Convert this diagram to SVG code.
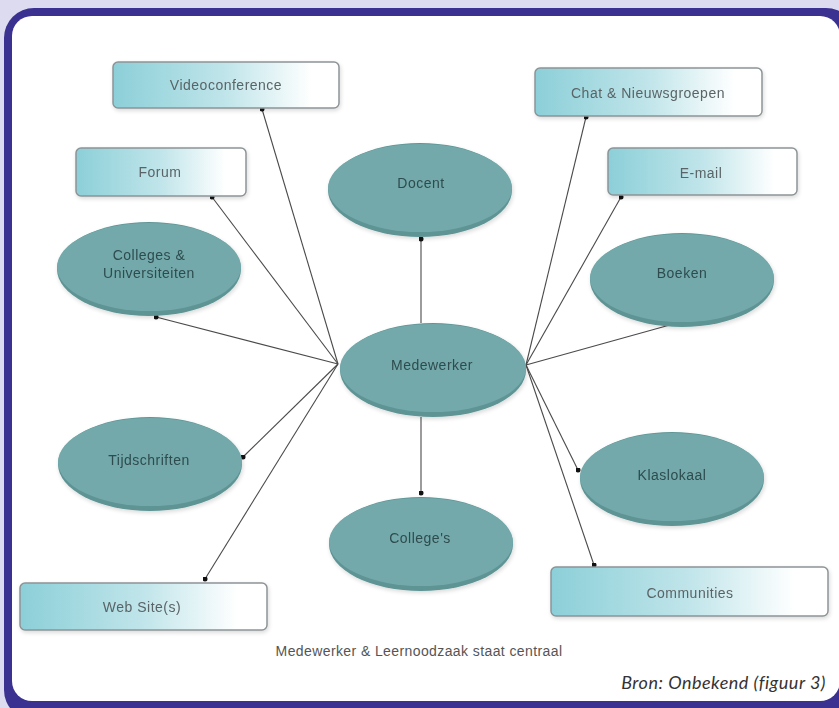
<svg xmlns="http://www.w3.org/2000/svg" width="839" height="708" viewBox="0 0 839 708">
<defs>
<linearGradient id="boxg" x1="0" y1="0" x2="1" y2="0">
<stop offset="0" stop-color="#8ccfd8"/>
<stop offset="0.5" stop-color="#c0e5ea"/>
<stop offset="0.88" stop-color="#ffffff"/>
</linearGradient>
<marker id="dot" viewBox="0 0 6 6" refX="3" refY="3" markerWidth="5" markerHeight="5" markerUnits="userSpaceOnUse">
<circle cx="3" cy="3" r="3" fill="#111"/>
</marker>
<filter id="sh" x="-10%" y="-10%" width="120%" height="130%">
<feGaussianBlur in="SourceAlpha" stdDeviation="2"/>
<feOffset dx="1" dy="2"/>
<feComponentTransfer><feFuncA type="linear" slope="0.15"/></feComponentTransfer>
<feMerge><feMergeNode/><feMergeNode in="SourceGraphic"/></feMerge>
</filter>
</defs>
<style>
.box{fill:url(#boxg);stroke:#8d9496;stroke-width:1.5}
.rim{fill:#5e9495}
.top{fill:#73a9aa}
.bl{font-family:"Liberation Sans",Arial,sans-serif;font-size:14px;letter-spacing:0.5px;fill:#5a6466;text-anchor:middle}
.el{font-family:"Liberation Sans",Arial,sans-serif;font-size:14px;letter-spacing:0.5px;fill:#2e4c4e;text-anchor:middle}
.cn{stroke:#4a4a4a;stroke-width:1.1;fill:none;marker-end:url(#dot)}
</style>
<rect x="0" y="0" width="839" height="708" fill="#dcdbf0"/>
<rect x="4" y="8" width="852" height="712" rx="30" fill="#3a3190"/>
<rect x="12" y="16" width="828" height="685" rx="20" fill="#ffffff"/>

<g id="connectors">
<line class="cn" x1="338" y1="364" x2="262" y2="109"/>
<line class="cn" x1="338" y1="364" x2="212" y2="197"/>
<line class="cn" x1="338" y1="364" x2="156" y2="317"/>
<line class="cn" x1="338" y1="364" x2="243" y2="457"/>
<line class="cn" x1="338" y1="364" x2="205" y2="579"/>
<line class="cn" x1="526" y1="365" x2="586" y2="117"/>
<line class="cn" x1="526" y1="365" x2="621" y2="197"/>
<line class="cn" x1="526" y1="365" x2="677" y2="323"/>
<line class="cn" x1="526" y1="365" x2="578" y2="470"/>
<line class="cn" x1="526" y1="365" x2="594" y2="565"/>
<line class="cn" x1="421" y1="323" x2="421" y2="239"/>
<line class="cn" x1="421" y1="417" x2="421" y2="493"/>
</g>

<g id="videoconference" filter="url(#sh)">
<rect class="box" x="113" y="62" width="226" height="46" rx="5"/>
<text class="bl" x="226" y="90">Videoconference</text>
</g>
<g id="forum" filter="url(#sh)">
<rect class="box" x="76" y="148" width="170" height="48" rx="5"/>
<text class="bl" x="160" y="177">Forum</text>
</g>
<g id="chat" filter="url(#sh)">
<rect class="box" x="535" y="68" width="227" height="48" rx="5"/>
<text class="bl" x="648" y="98">Chat &amp; Nieuwsgroepen</text>
</g>
<g id="email" filter="url(#sh)">
<rect class="box" x="608" y="148" width="189" height="47" rx="5"/>
<text class="bl" x="701" y="178">E-mail</text>
</g>
<g id="website" filter="url(#sh)">
<rect class="box" x="20" y="583" width="247" height="47" rx="5"/>
<text class="bl" x="142" y="612">Web Site(s)</text>
</g>
<g id="communities" filter="url(#sh)">
<rect class="box" x="551" y="567" width="277" height="49" rx="5"/>
<text class="bl" x="690" y="598">Communities</text>
</g>

<g id="docent" filter="url(#sh)">
<ellipse class="rim" cx="420" cy="190" rx="92" ry="47"/>
<ellipse class="top" cx="420" cy="188" rx="92" ry="44"/>
<text class="el" x="421" y="188">Docent</text>
</g>
<g id="colleges-universiteiten" filter="url(#sh)">
<ellipse class="rim" cx="149" cy="269" rx="92" ry="47"/>
<ellipse class="top" cx="149" cy="267" rx="92" ry="44"/>
<text class="el" x="149" y="260">Colleges &amp;</text>
<text class="el" x="149" y="278">Universiteiten</text>
</g>
<g id="medewerker" filter="url(#sh)">
<ellipse class="rim" cx="433" cy="370" rx="93" ry="47"/>
<ellipse class="top" cx="433" cy="368" rx="93" ry="44"/>
<text class="el" x="432" y="370">Medewerker</text>
</g>
<g id="boeken" filter="url(#sh)">
<ellipse class="rim" cx="682" cy="280" rx="92" ry="47"/>
<ellipse class="top" cx="682" cy="278" rx="92" ry="44"/>
<text class="el" x="682" y="278">Boeken</text>
</g>
<g id="tijdschriften" filter="url(#sh)">
<ellipse class="rim" cx="150" cy="464" rx="92" ry="47"/>
<ellipse class="top" cx="150" cy="462" rx="92" ry="44"/>
<text class="el" x="149" y="465">Tijdschriften</text>
</g>
<g id="colleges" filter="url(#sh)">
<ellipse class="rim" cx="421" cy="544" rx="92" ry="47"/>
<ellipse class="top" cx="421" cy="542" rx="92" ry="44"/>
<text class="el" x="420" y="543">College's</text>
</g>
<g id="klaslokaal" filter="url(#sh)">
<ellipse class="rim" cx="672" cy="479" rx="92" ry="47"/>
<ellipse class="top" cx="672" cy="477" rx="92" ry="44"/>
<text class="el" x="672" y="480">Klaslokaal</text>
</g>

<text x="419" y="656" font-family="Liberation Sans, Arial, sans-serif" font-size="14" letter-spacing="0.4" fill="#555" text-anchor="middle">Medewerker &amp; Leernoodzaak staat centraal</text>
<text x="826" y="689" font-family="Lato, 'Open Sans', sans-serif" font-style="italic" font-size="18" letter-spacing="0.5" fill="#333" text-anchor="end">Bron: Onbekend (figuur 3)</text>
</svg>
